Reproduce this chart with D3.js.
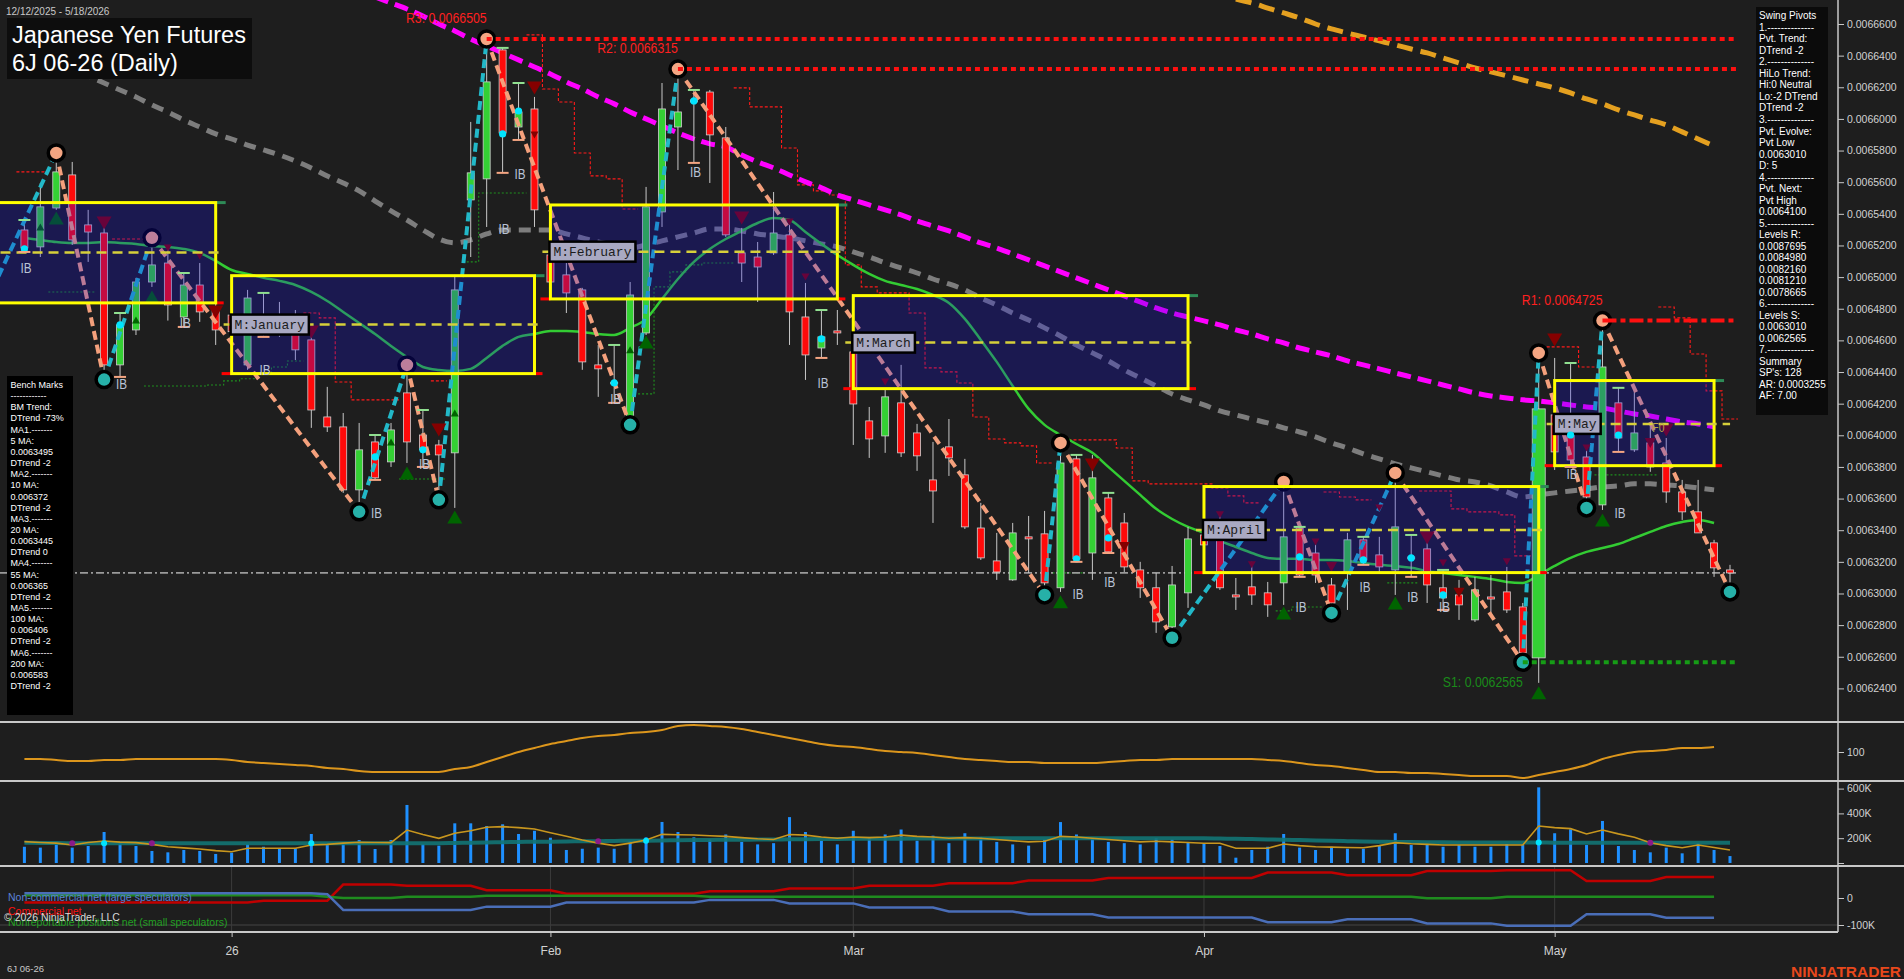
<!DOCTYPE html>
<html><head><meta charset="utf-8">
<script src="https://cdn.jsdelivr.net/npm/d3@7"></script>
<style>
html,body{margin:0;padding:0;background:#1e1e1e;overflow:hidden;}
svg{display:block;}
</style></head><body>
<svg id="chart" width="1904" height="979"></svg>
<script>
// ---------------- DATA ----------------
const dates = ["2025-12-12","2025-12-15","2025-12-16","2025-12-17","2025-12-18","2025-12-19","2025-12-22","2025-12-23","2025-12-24","2025-12-26","2025-12-29","2025-12-30","2025-12-31",
"2026-01-02","2026-01-05","2026-01-06","2026-01-07","2026-01-08","2026-01-09","2026-01-12","2026-01-13","2026-01-14","2026-01-15","2026-01-16","2026-01-20","2026-01-21","2026-01-22","2026-01-23","2026-01-26","2026-01-27","2026-01-28","2026-01-29","2026-01-30",
"2026-02-02","2026-02-03","2026-02-04","2026-02-05","2026-02-06","2026-02-09","2026-02-10","2026-02-11","2026-02-12","2026-02-13","2026-02-17","2026-02-18","2026-02-19","2026-02-20","2026-02-23","2026-02-24","2026-02-25","2026-02-26","2026-02-27",
"2026-03-02","2026-03-03","2026-03-04","2026-03-05","2026-03-06","2026-03-09","2026-03-10","2026-03-11","2026-03-12","2026-03-13","2026-03-16","2026-03-17","2026-03-18","2026-03-19","2026-03-20","2026-03-23","2026-03-24","2026-03-25","2026-03-26","2026-03-27","2026-03-30","2026-03-31",
"2026-04-01","2026-04-02","2026-04-03","2026-04-06","2026-04-07","2026-04-08","2026-04-09","2026-04-10","2026-04-13","2026-04-14","2026-04-15","2026-04-16","2026-04-17","2026-04-20","2026-04-21","2026-04-22","2026-04-23","2026-04-24","2026-04-27","2026-04-28","2026-04-29","2026-04-30",
"2026-05-01","2026-05-04","2026-05-05","2026-05-06","2026-05-07","2026-05-08","2026-05-11","2026-05-12","2026-05-13","2026-05-14","2026-05-15","2026-05-18"];

const open = [0.0065298,0.0065191,0.0065437,0.0065646,0.0065330,0.0065279,0.0064445,0.0064666,0.0064969,0.0065089,
0.0064748,0.0064950,0.0064792,0.0064760,0.0064445,0.0064634,0.0064742,0.0064685,0.0064603,0.0064116,
0.0064053,0.0063655,0.0063958,0.0063832,0.0064268,0.0064002,0.0063939,0.0063889,0.0065488,0.0065621,
0.0066436,0.0065949,0.0066063,0.0065140,0.0065014,0.0064919,0.0064445,0.0064335,0.0064097,0.0064647,
0.0065412,0.0065949,0.0066120,0.0066170,0.0065880,0.0065153,0.0065127,0.0065153,0.0065267,0.0064748,
0.0064552,0.0064660,0.0064527,0.0064091,0.0063996,0.0064205,0.0064015,0.0063718,0.0063927,0.0063750,
0.0063414,0.0063206,0.0063086,0.0063358,0.0063377,0.0063036,0.0063851,0.0063256,0.0063604,0.0063446,
0.0063149,0.0063036,0.0062789,0.0063004,0.0063370,0.0063339,0.0062991,0.0063042,0.0063004,0.0063067,
0.0063414,0.0063256,0.0063054,0.0063130,0.0063339,0.0063244,0.0063149,0.0063231,0.0063282,0.0063036,
0.0062991,0.0062833,0.0062978,0.0063010,0.0062915,0.0062593,0.0064129,0.0064047,0.0063863,0.0063560,
0.0064205,0.0063908,0.0063952,0.0063825,0.0063642,0.0063516,0.0063320,0.0063149];
const high = [0.0065361,0.0065595,0.0065785,0.0065728,0.0065425,0.0065374,0.0064773,0.0064995,0.0065248,0.0065191,
0.0065026,0.0065089,0.0064900,0.0064830,0.0064919,0.0064900,0.0064843,0.0064792,0.0064685,0.0064306,
0.0064141,0.0064078,0.0064002,0.0064078,0.0064445,0.0064160,0.0063971,0.0065014,0.0065981,0.0066505,
0.0066449,0.0066227,0.0066139,0.0065172,0.0065089,0.0064932,0.0064571,0.0064571,0.0064969,0.0065570,
0.0066227,0.0066315,0.0066183,0.0066183,0.0065949,0.0065311,0.0065222,0.0065538,0.0065361,0.0064963,
0.0064792,0.0064792,0.0064559,0.0064179,0.0064287,0.0064445,0.0064072,0.0063958,0.0064103,0.0063851,
0.0063573,0.0063383,0.0063446,0.0063490,0.0063522,0.0063952,0.0063876,0.0063876,0.0063636,0.0063509,
0.0063200,0.0063130,0.0063174,0.0063421,0.0063433,0.0063509,0.0063098,0.0063200,0.0063073,0.0063705,
0.0063421,0.0063320,0.0063098,0.0063383,0.0063358,0.0063358,0.0063762,0.0063370,0.0063383,0.0063149,
0.0063086,0.0063105,0.0063117,0.0063168,0.0062940,0.0064521,0.0064489,0.0064457,0.0063927,0.0064725,
0.0064300,0.0064300,0.0064066,0.0063983,0.0063718,0.0063718,0.0063339,0.0063181];
const low = [0.0065159,0.0065127,0.0065425,0.0065203,0.0065096,0.0064352,0.0064369,0.0064634,0.0064938,0.0064725,
0.0064685,0.0064717,0.0064571,0.0064570,0.0064414,0.0064622,0.0064622,0.0064476,0.0064047,0.0064021,
0.0063636,0.0063516,0.0063718,0.0063800,0.0063825,0.0063800,0.0063592,0.0063541,0.0065127,0.0065317,
0.0065659,0.0065867,0.0065317,0.0064932,0.0064773,0.0064414,0.0064243,0.0064205,0.0064066,0.0064634,
0.0065317,0.0065677,0.0065722,0.0065595,0.0065254,0.0064969,0.0064843,0.0065140,0.0064571,0.0064350,
0.0064489,0.0064571,0.0063939,0.0063857,0.0063889,0.0063863,0.0063775,0.0063446,0.0063743,0.0063408,
0.0063212,0.0063086,0.0063080,0.0063130,0.0062991,0.0063010,0.0063200,0.0063086,0.0063256,0.0063136,
0.0062972,0.0062751,0.0062720,0.0062909,0.0063212,0.0063023,0.0062896,0.0062928,0.0062852,0.0062928,
0.0063105,0.0063067,0.0062877,0.0062896,0.0063181,0.0063130,0.0062991,0.0063105,0.0062940,0.0062896,
0.0062833,0.0062820,0.0062852,0.0062877,0.0062565,0.0062435,0.0063781,0.0063800,0.0063541,0.0063528,
0.0063895,0.0063895,0.0063769,0.0063573,0.0063465,0.0063383,0.0063105,0.0063010];
const close = [0.0065184,0.0065444,0.0065665,0.0065235,0.0065285,0.0064445,0.0064698,0.0064969,0.0065077,0.0064824,
0.0064950,0.0064780,0.0064666,0.0064655,0.0064868,0.0064761,0.0064717,0.0064540,0.0064160,0.0064053,
0.0063655,0.0063908,0.0063731,0.0064034,0.0063958,0.0063908,0.0063876,0.0064919,0.0065659,0.0066234,
0.0065911,0.0066044,0.0065425,0.0064969,0.0064900,0.0064464,0.0064420,0.0064325,0.0064887,0.0065444,
0.0066063,0.0066044,0.0066107,0.0065899,0.0065267,0.0065089,0.0065064,0.0065279,0.0064780,0.0064508,
0.0064622,0.0064647,0.0064198,0.0063977,0.0064243,0.0063889,0.0063870,0.0063648,0.0063857,0.0063421,
0.0063225,0.0063136,0.0063383,0.0063345,0.0063067,0.0063825,0.0063219,0.0063731,0.0063263,0.0063168,
0.0063036,0.0062820,0.0063054,0.0063345,0.0063307,0.0063036,0.0062978,0.0062991,0.0062928,0.0063358,
0.0063117,0.0063117,0.0062940,0.0063339,0.0063212,0.0063168,0.0063421,0.0063219,0.0063054,0.0062972,
0.0062928,0.0063023,0.0062965,0.0062896,0.0062624,0.0064167,0.0063895,0.0063844,0.0063610,0.0064432,
0.0063983,0.0064015,0.0063800,0.0063642,0.0063516,0.0063383,0.0063162,0.0063130];

// moving averages (20 MA green, 55 MA gray, 100 MA magenta, 200 MA orange)
const ma20 = [0.0065248,0.0065235,0.0065222,0.0065216,0.0065216,0.0065222,0.0065216,0.0065210,0.0065197,0.0065191,
0.0065178,0.0065153,0.0065102,0.0065045,0.0065020,0.0064995,0.0064976,0.0064950,0.0064906,0.0064849,
0.0064780,0.0064710,0.0064640,0.0064565,0.0064495,0.0064432,0.0064413,0.0064407,0.0064420,0.0064489,
0.0064565,0.0064622,0.0064640,0.0064660,0.0064660,0.0064653,0.0064640,0.0064634,0.0064679,0.0064736,
0.0064862,0.0064988,0.0065096,0.0065178,0.0065241,0.0065292,0.0065342,0.0065374,0.0065361,0.0065285,
0.0065210,0.0065140,0.0065077,0.0065020,0.0064976,0.0064950,0.0064925,0.0064887,0.0064837,0.0064736,
0.0064603,0.0064464,0.0064312,0.0064167,0.0064066,0.0064002,0.0063945,0.0063889,0.0063800,0.0063712,
0.0063623,0.0063535,0.0063471,0.0063421,0.0063383,0.0063332,0.0063294,0.0063256,0.0063225,0.0063219,
0.0063219,0.0063212,0.0063212,0.0063206,0.0063193,0.0063181,0.0063174,0.0063162,0.0063143,0.0063130,
0.0063117,0.0063105,0.0063092,0.0063073,0.0063067,0.0063117,0.0063174,0.0063225,0.0063263,0.0063288,
0.0063313,0.0063351,0.0063389,0.0063427,0.0063452,0.0063465,0.0063446];
const ma55 = [0.0066449,0.0066404,0.0066360,0.0066316,0.0066272,0.0066227,0.0066183,0.0066139,0.0066088,0.0066044,
0.0065993,0.0065949,0.0065905,0.0065873,0.0065835,0.0065804,0.0065772,0.0065734,0.0065690,0.0065639,
0.0065595,0.0065545,0.0065481,0.0065418,0.0065361,0.0065298,0.0065241,0.0065216,0.0065235,0.0065273,
0.0065298,0.0065298,0.0065298,0.0065298,0.0065273,0.0065248,0.0065222,0.0065203,0.0065184,0.0065203,
0.0065229,0.0065254,0.0065279,0.0065304,0.0065304,0.0065292,0.0065273,0.0065260,0.0065248,0.0065229,
0.0065210,0.0065191,0.0065159,0.0065127,0.0065090,0.0065058,0.0065026,0.0064988,0.0064957,0.0064919,
0.0064868,0.0064824,0.0064773,0.0064729,0.0064679,0.0064628,0.0064571,0.0064521,0.0064470,0.0064413,
0.0064363,0.0064312,0.0064261,0.0064224,0.0064192,0.0064154,0.0064129,0.0064103,0.0064078,0.0064047,
0.0064021,0.0063990,0.0063952,0.0063920,0.0063882,0.0063851,0.0063819,0.0063794,0.0063769,0.0063743,
0.0063718,0.0063705,0.0063680,0.0063642,0.0063610,0.0063623,0.0063636,0.0063648,0.0063661,0.0063674,
0.0063680,0.0063693,0.0063693,0.0063686,0.0063680,0.0063667,0.0063655];
const ma100 = [null,null,null,null,null,null,null,null,null,null,null,null,null,null,null,null,null,null,null,null,null,null,
0.0066771,0.0066733,0.0066695,0.0066651,0.0066600,0.0066556,0.0066505,0.0066461,
0.0066417,0.0066373,0.0066328,0.0066284,0.0066234,0.0066189,0.0066139,0.0066095,0.0066044,0.0066000,
0.0065956,0.0065911,0.0065873,0.0065842,0.0065823,0.0065772,0.0065728,0.0065690,0.0065646,0.0065602,
0.0065564,0.0065519,0.0065488,0.0065456,0.0065425,0.0065393,0.0065355,0.0065323,0.0065292,0.0065254,
0.0065216,0.0065184,0.0065146,0.0065109,0.0065071,0.0065033,0.0064995,0.0064957,0.0064919,0.0064881,
0.0064843,0.0064805,0.0064773,0.0064748,0.0064723,0.0064698,0.0064666,0.0064641,0.0064609,0.0064584,
0.0064552,0.0064527,0.0064502,0.0064470,0.0064445,0.0064420,0.0064394,0.0064369,0.0064344,0.0064318,
0.0064293,0.0064268,0.0064249,0.0064236,0.0064224,0.0064217,0.0064205,0.0064192,0.0064179,0.0064173,
0.0064154,0.0064135,0.0064122,0.0064103,0.0064085,0.0064072,0.0064053];
const ma200 = [null,null,null,null,null,null,null,null,null,null,null,null,null,null,null,null,null,null,null,null,
null,null,null,null,null,null,null,null,null,null,null,null,null,null,null,null,null,null,null,null,
null,null,null,null,null,null,null,null,null,null,null,null,null,null,null,null,null,null,null,null,
null,null,null,null,null,null,null,null,null,null,null,null,null,null,null,null,
0.0066758,0.0066733,0.0066701,0.0066670,0.0066638,0.0066600,0.0066569,0.0066543,0.0066518,0.0066493,
0.0066468,0.0066442,0.0066417,0.0066385,0.0066354,0.0066322,0.0066297,0.0066272,0.0066246,0.0066221,
0.0066196,0.0066164,0.0066126,0.0066095,0.0066057,0.0066025,0.0065993,0.0065962,0.0065918,0.0065873,0.0065829];

// trailing stop steps
const redStopBars = [0,1,6,7,18,19,20,21,22,23,26,32,33,34,35,36,37,38,45,46,47,48,49,50,51,52,53,54,55,56,57,58,59,60,61,62,63,64,66,67,68,69,70,71,72,73,74,75,76,77,82,83,84,88,89,90,91,92,93,94,96,97,98,103,104,105,106,107];
const redStopPrices = [0.0065665,0.0065665,0.0065241,0.0065241,0.0064773,0.0064742,0.0064337,0.0064224,0.0064224,0.0064224,0.0064344,
0.0066531,0.0066189,0.0066107,0.0065785,0.0065640,0.0065621,0.0065431,
0.0066196,0.0066076,0.0066076,0.0065816,0.0065583,0.0065545,0.0065519,0.0065077,0.0064938,0.0064900,0.0064900,0.0064773,0.0064426,0.0064401,0.0064331,0.0064116,0.0063977,0.0063952,0.0063933,0.0063825,
0.0063971,0.0063971,0.0063971,0.0063920,0.0063712,0.0063693,0.0063693,0.0063693,0.0063693,0.0063667,0.0063617,0.0063573,
0.0063642,0.0063610,0.0063592,0.0063648,0.0063648,0.0063535,0.0063516,0.0063516,0.0063497,0.0063238,
0.0064559,0.0064559,0.0064432,0.0064811,0.0064742,0.0064514,0.0064281,0.0064103];
const greenStopBars = [2,3,4,8,9,10,11,12,13,14,15,16,17,24,25,26,28,29,30,31,39,40,41,42,43,44,65,66,79,80,81,86,87,95,99,100,101,102];
const greenStopPrices = [0.0064906,0.0064906,0.0064906,0.0064312,0.0064312,0.0064312,0.0064312,0.0064318,0.0064344,0.0064357,0.0064394,0.0064432,0.0064470,
0.0063724,0.0063724,0.0063724,0.0065096,0.0065532,0.0065532,0.0065532,0.0064262,0.0064938,0.0065033,0.0065077,0.0065089,0.0065089,
0.0063130,0.0063130,0.0062890,0.0062915,0.0062915,0.0063067,0.0063067,0.0063794,0.0063750,0.0063750,0.0063750,0.0063750];

// swing pivots
const swingBars = [-2,2,5,8,21,24,26,29,38,41,64,65,72,79,82,86,94,95,98,99,107];
const swingPrices = [0.0064925,0.0065785,0.0064352,0.0065248,0.0063516,0.0064445,0.0063592,0.0066505,0.0064066,0.0066315,0.0062991,0.0063952,0.0062720,0.0063705,0.0062877,0.0063762,0.0062565,0.0064521,0.0063541,0.0064725,0.0063010];
const swingTypes = ["L","H","L","H","L","H","L","H","L","H","L","H","L","H","L","H","L","H","L","H","L"];

// pivot levels
const levelLabels = ["R3: 0.0066505","R2: 0.0066315","R1: 0.0064725","S1: 0.0062565"];
const levelPrices = [0.0066505,0.0066315,0.0064725,0.0062565];
const levelFromBar = [29,41,99,94];
const levelKinds = ["R","R","R1","S"];

// monthly range boxes
const boxLabels = ["","M:January","M:February","M:March","M:April","M:May"];
const boxStartBar = [-2,13,33,52,74,96];
const boxEndBar = [12,32,51,73,95,106];
const boxTop = [0.0065471,0.0065009,0.0065456,0.0064883,0.0063676,0.0064346];
const boxBottom = [0.0064837,0.0064390,0.0064862,0.0064295,0.0063132,0.0063808];
const boxMid = [0.0065155,0.0064700,0.0065161,0.0064586,0.0063402,0.0064072];

// signals
const sellBars = [5,9,11,12,18,26,32,32,45,48,49,54,67,69,75,77,81,82,85,88,89,90,93,96,98,102,103];
const sellPrices = [0.0065342,0.0065184,0.0065134,0.0064780,0.0064653,0.0064034,0.0066196,0.0065899,0.0065374,0.0065349,0.0065001,0.0064337,0.0063813,0.0063294,0.0063497,0.0063181,0.0063326,0.0063168,0.0063541,0.0063351,0.0063193,0.0063004,0.0063200,0.0064603,0.0063920,0.0063952,0.0064034];
const sellStrength = [3,1,1,3,3,3,3,1,3,1,1,1,3,2,1,1,1,2,1,3,1,2,1,3,1,2,3];
const buyBars = [1,2,7,8,23,24,27,27,38,39,65,79,86,95,99];
const buyPrices = [0.0065317,0.0065374,0.0064729,0.0064875,0.0063958,0.0063762,0.0064141,0.0063484,0.0064540,0.0064590,0.0062947,0.0062877,0.0062940,0.0062372,0.0063465];
const buyStrength = [1,3,1,3,1,3,1,3,1,3,3,3,3,3,3];
const dotBars = [0,6,22,25,30,31,37,42,50,66,68,80,84,87,89,97,100];
const dotPrices = [0.0065178,0.0064698,0.0063863,0.0063908,0.0065905,0.0066050,0.0064331,0.0066114,0.0064609,0.0063219,0.0063351,0.0063231,0.0063212,0.0063225,0.0062991,0.0064002,0.0064002];
const ibBars = [0,6,10,15,22,25,30,31,37,42,50,66,68,80,84,87,89,97,100];
const ibLabelPrices = [0.0065064,0.0064331,0.0064717,0.0064420,0.0063516,0.0063825,0.0065311,0.0065659,0.0064236,0.0065671,0.0064337,0.0063004,0.0063080,0.0062921,0.0063048,0.0062985,0.0062921,0.0063762,0.0063516];

// oscillator panel
const osc = [93,93,92,91,91,92,92,93,93,93,93,93,93,92,90,89,88,87,86,84,83,81,80,80,80,80,80,
83,85,90,95,100,104,108,111,114,116,117,119,120,122,126,127,
126,125,123,120,117,114,111,108,106,105,103,101,100,99,97,95,93,92,91,90,90,89,89,89,89,90,91,92,92,93,93,
93,93,93,93,92,91,89,87,86,84,82,80,80,79,79,78,77,76,76,76,74,
77,80,83,87,93,97,100,101,102,104,104,105];

// volume panel
const volume = [131,124,151,124,137,250,167,137,97,86,105,97,73,83,151,131,113,119,234,145,
169,185,113,185,468,153,140,320,320,298,312,234,260,204,105,115,124,115,177,207,331,250,207,
190,230,170,150,160,370,250,180,150,260,200,230,270,180,220,160,240,210,170,150,140,190,330,230,200,170,160,150,200,190,170,
159,137,43,105,131,234,124,105,131,115,115,137,240,145,153,131,145,131,131,153,145,610,240,272,145,339,137,105,86,124,78,159,105,56].map(v=>v*1000);
const volAvg = [172,165,160,145,165,177,168,164,150,131,122,113,100,91,119,119,119,119,145,150,
160,167,165,164,266,230,199,240,260,288,293,285,274,244,215,185,160,140,160,185,231,228,226,
220,215,205,195,190,230,225,210,200,210,205,210,225,215,210,200,205,200,190,180,170,175,215,210,200,190,180,170,175,170,165,
159,159,119,119,119,153,140,131,128,125,123,140,164,155,150,145,145,145,145,145,145,298,285,277,234,266,235,207,164,140,123,145,125,105].map(v=>v*1000);
const volSlow = [163,162,161,160,160,160,160,160,160,160,160,160,160,160,160,160,160,160,160,160,160,160,160,160,160,160,160,
162,164,166,168,170,171,172,174,175,176,178,179,180,182,183,185,
186,187,188,189,190,191,192,193,194,195,195,196,196,197,197,198,198,198,199,199,199,199,199,199,199,199,199,199,199,199,199,
199,197,195,193,190,188,185,182,179,176,174,172,170,169,168,167,166,166,165,165,165,165,164,164,164,164,164,164,164,164,164,164,164,164].map(v=>v*1000);
const volCyanDots = [5,18,39,95];
const volPurpleDots = [3,8,36,102];

// COT panel (thousands of contracts)
const cotNonCommercial = [18,18,18,18,18,18,18,18,18,18,18,18,18,18,18,18,18,18,18,14,
-44,-44,-44,-44,-44,-44,-44,-44,-44,-32,-32,-32,-32,-32,-17,-17,-17,-17,-17,-17,-17,-17,-17,
-7,-7,-7,-7,-7,-20,-20,-20,-20,-20,-35,-35,-35,-35,-35,-50,-50,-50,-50,-50,-60,-60,-60,-60,-60,-72,-72,-72,-72,-72,-72,
-72,-72,-72,-72,-90,-90,-90,-90,-90,-79,-79,-79,-79,-79,-94,-94,-94,-94,-94,-103,-103,-103,-103,-103,-60,-60,-60,-60,-60,-73,-73,-73,-73].map(v=>v*1000);
const cotCommercial = [-17,-17,-17,-17,-17,-17,-17,-17,-17,-17,-17,-17,-17,-17,-17,-10,-10,-10,-10,-10,
50,50,50,50,45,45,45,45,45,29,29,29,29,29,16,16,16,16,16,16,16,16,16,
25,25,25,25,25,35,35,35,35,35,45,45,45,45,45,55,55,55,55,55,65,65,65,65,65,74,74,74,74,74,74,
74,74,74,74,94,94,94,94,94,84,84,84,84,84,100,100,100,100,100,103,103,103,103,103,63,63,63,63,63,78,78,78,78].map(v=>v*1000);
const cotNonReportable = [10,10,10,10,10,10,10,10,10,10,10,10,10,10,10,10,10,10,10,5,
0,0,0,0,5,5,5,5,5,8,8,8,8,8,8,8,8,8,8,8,8,8,8,
5,5,5,5,5,5,5,5,5,5,5,5,5,5,5,5,5,5,5,5,5,5,5,5,5,5,5,5,5,5,5,
5,5,5,5,5,5,5,5,5,5,5,5,5,5,-1,-1,-1,-1,-1,5,5,5,5,5,5,5,5,5,5,5,5,5,5].map(v=>v*1000);

// axis ticks / labels
const priceTicks = [0.00624,0.00626,0.00628,0.0063,0.00632,0.00634,0.00636,0.00638,0.0064,0.00642,0.00644,0.00646,0.00648,0.0065,0.00652,0.00654,0.00656,0.00658,0.0066,0.00662,0.00664,0.00666];
const xTickDates = ["2026-01-02","2026-02-02","2026-03-02","2026-04-01","2026-05-01"];
const xTickLabels = ["26","Feb","Mar","Apr","May"];
const oscTicks = [100];
const volTicks = [0,200000,400000,600000];
const cotTicks = [-100000,0];

const pivotPanelLines = ["Swing Pivots","1.--------------","Pvt. Trend:","DTrend -2","2.--------------","HiLo Trend:","Hi:0 Neutral","Lo:-2 DTrend","DTrend -2","3.--------------","Pvt. Evolve:","Pvt Low","0.0063010","D: 5","4.--------------","Pvt. Next:","Pvt High","0.0064100","5.--------------","Levels R:","0.0087695","0.0084980","0.0082160","0.0081210","0.0078665","6.--------------","Levels S:","0.0063010","0.0062565","7.--------------","Summary","SP's: 128","AR: 0.0003255","AF: 7.00"];
const benchLines = ["Bench Marks","------------","BM Trend:","DTrend -73%","MA1.-------","5 MA:","0.0063495","DTrend -2","MA2.-------","10 MA:","0.006372","DTrend -2","MA3.-------","20 MA:","0.0063445","DTrend 0","MA4.-------","55 MA:","0.006365","DTrend -2","MA5.-------","100 MA:","0.006406","DTrend -2","MA6.-------","200 MA:","0.006583","DTrend -2"];
const cotLegend = ["Non-commercial net (large speculators)","Commercial net","Nonreportable positions net (small speculators)"];

// ---------------- DRAWING ----------------
const svg = d3.select("#chart");
const W = 1904, H = 979, AX = 1838;
const SANS = "Arial, 'Liberation Sans', sans-serif";
const NARROW = "'Liberation Sans Narrow','Arial Narrow',Arial,'Liberation Sans',sans-serif";
const MONO = "'Liberation Mono','Courier New',monospace";

const x = d3.scaleLinear().domain([0, dates.length - 1]).range([24.4, 1730]);
const y = d3.scaleLinear().domain([0.00624, 0.00666]).range([688.4, 24]);
const yOsc = d3.scaleLinear().domain([100, 127]).range([752, 725]);
const yVol = d3.scaleLinear().domain([0, 600000]).range([863, 788.6]);
const yCot = d3.scaleLinear().domain([-100000, 0]).range([925, 898]);

svg.append("rect").attr("width", W).attr("height", H).attr("fill", "#1e1e1e");
const defs = svg.append("defs");
function clip(id, x0, y0, w, h) { defs.append("clipPath").attr("id", id).append("rect").attr("x", x0).attr("y", y0).attr("width", w).attr("height", h); }
clip("cMain", 0, 0, AX, 721);
clip("cOsc", 0, 723, AX, 57);
clip("cVol", 0, 782, AX, 83);
clip("cCot", 0, 867, AX, 64);

const gMain = svg.append("g").attr("clip-path", "url(#cMain)");

// narrow text helper: condensed look via textLength
function narrowText(g, str, px, fontSize, ratio) {
  const t = g.append("text").text(str).attr("font-family", NARROW).attr("font-size", fontSize);
  const len = t.node().getComputedTextLength();
  t.attr("textLength", len * ratio).attr("lengthAdjust", "spacingAndGlyphs");
  return t;
}

// step lines
function runs(bars, vals) {
  const out = []; let cur = null, prev = null;
  bars.forEach((b, k) => { if (prev === null || b !== prev + 1) { cur = []; out.push(cur); } cur.push([b, vals[k]]); prev = b; });
  return out;
}
function drawSteps(bars, vals, color, dash, width) {
  runs(bars, vals).forEach(r => {
    const pts = r.map(([b, v]) => [x(b - 0.5), y(v)]);
    const last = r[r.length - 1];
    pts.push([x(last[0] + 0.5), y(last[1])]);
    gMain.append("path").attr("d", d3.line().curve(d3.curveStepAfter)(pts))
      .attr("fill", "none").attr("stroke", color).attr("stroke-width", width).attr("stroke-dasharray", dash);
  });
}
drawSteps(redStopBars, redStopPrices, "#ff1a1a", "3,2", 1.1);
drawSteps(greenStopBars, greenStopPrices, "#1f8f1f", "2,2", 1.1);

// moving averages
function maLine(arr, color, width, dash, opacity) {
  gMain.append("path").datum(arr)
    .attr("d", d3.line().defined(d => d != null).x((d, i) => x(i)).y(d => y(d)).curve(d3.curveMonotoneX))
    .attr("fill", "none").attr("stroke", color).attr("stroke-width", width)
    .attr("stroke-dasharray", dash).attr("opacity", opacity);
}
maLine(ma200, "#e4a020", 5, "16,8", 1);
maLine(ma100, "#ff00ff", 5, "14,7", 1);
maLine(ma55, "#858585", 5, "12,8", 0.92);
maLine(ma20, "#33cc33", 2.5, null, 1);

// last price dash-dot line
gMain.append("line").attr("x1", 0).attr("x2", x(dates.length - 1) + 6)
  .attr("y1", y(close[close.length - 1])).attr("y2", y(close[close.length - 1]))
  .attr("stroke", "#9a9a9a").attr("stroke-width", 1.6).attr("stroke-dasharray", "8,3,2,3");

// candles
const cg = gMain.append("g");
dates.forEach((d, i) => {
  const up = close[i] >= open[i];
  const bw = volume[i] > 500000 ? 13 : 7;
  cg.append("line").attr("x1", x(i)).attr("x2", x(i)).attr("y1", y(high[i])).attr("y2", y(low[i]))
    .attr("stroke", "#c8c8c8").attr("stroke-width", 1);
  const top = y(Math.max(open[i], close[i])), bot = y(Math.min(open[i], close[i]));
  cg.append("rect").attr("x", x(i) - bw / 2).attr("y", top).attr("width", bw).attr("height", Math.max(1.5, bot - top))
    .attr("fill", up ? "#34d034" : "#ff0a0a").attr("stroke", "#d0d0d0").attr("stroke-width", 0.8);
});

// swing zigzag
for (let k = 0; k < swingBars.length - 1; k++) {
  gMain.append("line")
    .attr("x1", x(swingBars[k])).attr("y1", y(swingPrices[k]))
    .attr("x2", x(swingBars[k + 1])).attr("y2", y(swingPrices[k + 1]))
    .attr("stroke", swingTypes[k] === "L" ? "#22b8c8" : "#f4a07c")
    .attr("stroke-width", 4).attr("stroke-dasharray", "9,5");
}
swingBars.forEach((b, k) => {
  if (b < 0) return;
  gMain.append("circle").attr("cx", x(b)).attr("cy", y(swingPrices[k])).attr("r", 8)
    .attr("fill", swingTypes[k] === "H" ? "#f4a582" : "#26b0a8").attr("stroke", "#000").attr("stroke-width", 3.5);
});

// signal triangles
const triSize = { 1: [8, 7], 2: [11, 10], 3: [15, 13] };
sellBars.forEach((b, k) => {
  const [w, h] = triSize[sellStrength[k]]; const cx = x(b), cy = y(sellPrices[k]);
  gMain.append("path").attr("d", `M${cx - w / 2},${cy - h / 2}L${cx + w / 2},${cy - h / 2}L${cx},${cy + h / 2}Z`).attr("fill", "#850000");
});
buyBars.forEach((b, k) => {
  const [w, h] = triSize[buyStrength[k]]; const cx = x(b), cy = y(buyPrices[k]);
  gMain.append("path").attr("d", `M${cx - w / 2},${cy + h / 2}L${cx + w / 2},${cy + h / 2}L${cx},${cy - h / 2}Z`).attr("fill", "#006400");
});

// monthly boxes
boxLabels.forEach((lab, k) => {
  const x0 = x(boxStartBar[k]), x1 = x(boxEndBar[k]);
  const yt = y(boxTop[k]), yb = y(boxBottom[k]);
  gMain.append("rect").attr("x", x0).attr("y", yt).attr("width", x1 - x0).attr("height", yb - yt)
    .attr("fill", "rgb(20,10,230)").attr("fill-opacity", 0.25);
  gMain.append("line").attr("x1", x1).attr("x2", x1 + 10).attr("y1", yt).attr("y2", yt).attr("stroke", "#2e8b57").attr("stroke-width", 3);
  gMain.append("line").attr("x1", x1).attr("x2", x1 + 8).attr("y1", yb).attr("y2", yb).attr("stroke", "#ff0000").attr("stroke-width", 3);
  gMain.append("line").attr("x1", x0 - 10).attr("x2", x0).attr("y1", yb).attr("y2", yb).attr("stroke", "#ff0000").attr("stroke-width", 3);
  gMain.append("rect").attr("x", x0).attr("y", yt).attr("width", x1 - x0).attr("height", yb - yt)
    .attr("fill", "none").attr("stroke", "#ffff00").attr("stroke-width", 3);
  const ym = y(boxMid[k]);
  gMain.append("line").attr("x1", x0 - 8).attr("x2", x1 + (k === boxLabels.length - 1 ? 16 : 8)).attr("y1", ym).attr("y2", ym)
    .attr("stroke", "#d6d03a").attr("stroke-width", 2.5).attr("stroke-dasharray", "10,6");
});
boxLabels.forEach((lab, k) => {
  if (!lab) return;
  const x0 = x(boxStartBar[k]), ym = y(boxMid[k]);
  const t = gMain.append("text").attr("x", x0 + 3).attr("y", ym + 4.5).text(lab)
    .attr("font-family", MONO).attr("font-size", 13).attr("fill", "#1c1c1c");
  const wlen = t.node().getComputedTextLength();
  gMain.insert("rect", () => t.node()).attr("x", x0 - 1).attr("y", ym - 10).attr("width", wlen + 8).attr("height", 20)
    .attr("fill", "#a9a9c2").attr("stroke", "#000").attr("stroke-width", 2.5);
});

// cyan dots
dotBars.forEach((b, k) => {
  gMain.append("circle").attr("cx", x(b)).attr("cy", y(dotPrices[k])).attr("r", 3.6).attr("fill", "#00e5ff");
});

// IB marks + labels
ibBars.forEach((b, k) => {
  gMain.append("line").attr("x1", x(b) - 6).attr("x2", x(b) + 6).attr("y1", y(high[b])).attr("y2", y(high[b]))
    .attr("stroke", "#90e090").attr("stroke-width", 2);
  gMain.append("line").attr("x1", x(b) - 6).attr("x2", x(b) + 6).attr("y1", y(low[b])).attr("y2", y(low[b]))
    .attr("stroke", "#f4a582").attr("stroke-width", 2);
  narrowText(gMain, "IB", 0, 15, 0.78).attr("x", x(b) - 4).attr("y", y(ibLabelPrices[k]) + 6).attr("fill", "#b9c3d6");
});
narrowText(gMain, "F0", 0, 13, 0.8).attr("x", x(102) + 2).attr("y", y(0.0064047) + 4).attr("fill", "#b8a848");

// pivot levels
levelPrices.forEach((p, k) => {
  const yy = y(p), x0 = x(levelFromBar[k]), x1 = x(dates.length - 1) + 6;
  const col = levelKinds[k] === "S" ? "#169c16" : "#ff1010";
  const dash = levelKinds[k] === "R1" ? "14,4,5,4" : "5,4";
  gMain.append("line").attr("x1", x0).attr("x2", x1).attr("y1", yy).attr("y2", yy)
    .attr("stroke", col).attr("stroke-width", 4).attr("stroke-dasharray", dash);
  narrowText(gMain, levelLabels[k], 0, 15, 0.82)
    .attr("x", x0).attr("y", levelKinds[k] === "S" ? yy + 25 : yy - 16)
    .attr("text-anchor", "end")
    .attr("fill", levelKinds[k] === "S" ? "#1a8a1a" : "#ff2020");
});

// ---- lower panels ----
const gOsc = svg.append("g").attr("clip-path", "url(#cOsc)");
gOsc.append("path").datum(osc).attr("d", d3.line().x((d, i) => x(i)).y(d => yOsc(d)).curve(d3.curveMonotoneX))
  .attr("fill", "none").attr("stroke", "#dc961c").attr("stroke-width", 2);

const gVol = svg.append("g").attr("clip-path", "url(#cVol)");
volume.forEach((v, i) => {
  gVol.append("rect").attr("x", x(i) - 1.5).attr("y", yVol(v)).attr("width", 3).attr("height", yVol(0) - yVol(v)).attr("fill", "#1e90ff");
});
gVol.append("path").datum(volSlow).attr("d", d3.line().x((d, i) => x(i)).y(d => yVol(d)).curve(d3.curveMonotoneX))
  .attr("fill", "none").attr("stroke", "#127474").attr("stroke-width", 4).attr("opacity", 0.9);
gVol.append("path").datum(volAvg).attr("d", d3.line().x((d, i) => x(i)).y(d => yVol(d)))
  .attr("fill", "none").attr("stroke", "#c8961e").attr("stroke-width", 1.6);
volCyanDots.forEach(b => gVol.append("circle").attr("cx", x(b)).attr("cy", yVol(volSlow[b])).attr("r", 3).attr("fill", "#00e5ff"));
volPurpleDots.forEach(b => gVol.append("circle").attr("cx", x(b)).attr("cy", yVol(volSlow[b])).attr("r", 3).attr("fill", "#8a1a8a"));

const gCot = svg.append("g").attr("clip-path", "url(#cCot)");
gCot.append("line").attr("x1", 0).attr("x2", AX).attr("y1", yCot(-100000)).attr("y2", yCot(-100000)).attr("stroke", "#444").attr("stroke-width", 1);
xTickDates.forEach(d => {
  const xi = x(dates.indexOf(d));
  gCot.append("line").attr("x1", xi).attr("x2", xi).attr("y1", 866).attr("y2", 932).attr("stroke", "#3c3c3c").attr("stroke-width", 1);
});
[[cotCommercial, "#c00000"], [cotNonReportable, "#1f8c1f"], [cotNonCommercial, "#4a6eb8"]].forEach(([arr, col]) => {
  gCot.append("path").datum(arr).attr("d", d3.line().x((d, i) => x(i)).y(d => yCot(d)))
    .attr("fill", "none").attr("stroke", col).attr("stroke-width", 2.5);
});
const legendColors = ["#5b82d8", "#ff1010", "#22a022"];
const legendY = [901, 915, 926];
cotLegend.forEach((t, k) => {
  svg.append("text").attr("x", 8).attr("y", legendY[k]).text(t).attr("font-family", SANS).attr("font-size", 10.5).attr("fill", legendColors[k]);
});
svg.append("text").attr("x", 4).attr("y", 921).text("\u00a9 2026 NinjaTrader, LLC").attr("font-family", SANS).attr("font-size", 10.5).attr("fill", "#d8d8d8");

// ---- separators & axes ----
[722, 781, 866].forEach(yy => svg.append("line").attr("x1", 0).attr("x2", W).attr("y1", yy).attr("y2", yy).attr("stroke", "#c8c8c8").attr("stroke-width", 2));
svg.append("line").attr("x1", 0).attr("x2", AX).attr("y1", 932).attr("y2", 932).attr("stroke", "#c8c8c8").attr("stroke-width", 2);
svg.append("line").attr("x1", AX).attr("x2", AX).attr("y1", 0).attr("y2", 932).attr("stroke", "#c8c8c8").attr("stroke-width", 1.5);

function styleAxis(g) {
  g.select(".domain").remove();
  g.selectAll(".tick line").attr("stroke", "#c8c8c8");
  g.selectAll(".tick text").attr("fill", "#d2d2d2").attr("font-family", SANS).attr("font-size", 10.5);
}
svg.append("g").attr("transform", `translate(${AX},0)`)
  .call(d3.axisRight(y).tickValues(priceTicks).tickFormat(d => d.toFixed(7)).tickSize(6).tickPadding(3)).call(styleAxis);
svg.append("g").attr("transform", `translate(${AX},0)`)
  .call(d3.axisRight(yOsc).tickValues(oscTicks).tickFormat(d => d).tickSize(6).tickPadding(3)).call(styleAxis);
svg.append("g").attr("transform", `translate(${AX},0)`)
  .call(d3.axisRight(yVol).tickValues(volTicks).tickFormat(d => d === 0 ? "" : (d / 1000) + "K").tickSize(6).tickPadding(3)).call(styleAxis);
svg.append("g").attr("transform", `translate(${AX},0)`)
  .call(d3.axisRight(yCot).tickValues(cotTicks).tickFormat(d => d === 0 ? "0" : (d / 1000) + "K").tickSize(6).tickPadding(3)).call(styleAxis);
const xa = svg.append("g").attr("transform", "translate(0,932)")
  .call(d3.axisBottom(x).tickValues(xTickDates.map(d => dates.indexOf(d))).tickFormat((d, i) => xTickLabels[i]).tickSize(5).tickPadding(9));
styleAxis(xa);
xa.selectAll(".tick text").attr("font-size", 12);

// ---- text overlays ----
svg.append("text").attr("x", 6).attr("y", 15).text("12/12/2025 - 5/18/2026").attr("font-family", SANS).attr("font-size", 10).attr("fill", "#c8c8c8");
svg.append("rect").attr("x", 7).attr("y", 18).attr("width", 245).attr("height", 61).attr("fill", "#0d0d0d");
svg.append("text").attr("x", 12).attr("y", 43).text("Japanese Yen Futures").attr("font-family", SANS).attr("font-size", 23.5).attr("fill", "#ffffff");
svg.append("text").attr("x", 12).attr("y", 70.5).text("6J 06-26 (Daily)").attr("font-family", SANS).attr("font-size", 23.5).attr("fill", "#ffffff");

svg.append("rect").attr("x", 1756).attr("y", 7).attr("width", 72).attr("height", 408).attr("fill", "#0b0b0b");
pivotPanelLines.forEach((t, i) => {
  svg.append("text").attr("x", 1759).attr("y", 19.3 + i * 11.52).text(t).attr("font-family", SANS).attr("font-size", 10).attr("fill", "#ffffff");
});
svg.append("rect").attr("x", 7).attr("y", 376).attr("width", 66).attr("height", 339).attr("fill", "#000000");
benchLines.forEach((t, i) => {
  svg.append("text").attr("x", 10.5).attr("y", 388 + i * 11.15).text(t).attr("font-family", SANS).attr("font-size", 9).attr("fill", "#ffffff");
});

svg.append("text").attr("x", 7).attr("y", 972).text("6J 06-26").attr("font-family", SANS).attr("font-size", 9.5).attr("fill", "#c8c8c8");
svg.append("text").attr("x", 1901).attr("y", 977).attr("text-anchor", "end").text("NINJATRADER")
  .attr("font-family", SANS).attr("font-weight", "bold").attr("font-size", 15.5).attr("fill", "#e8481c");
</script></body></html>
